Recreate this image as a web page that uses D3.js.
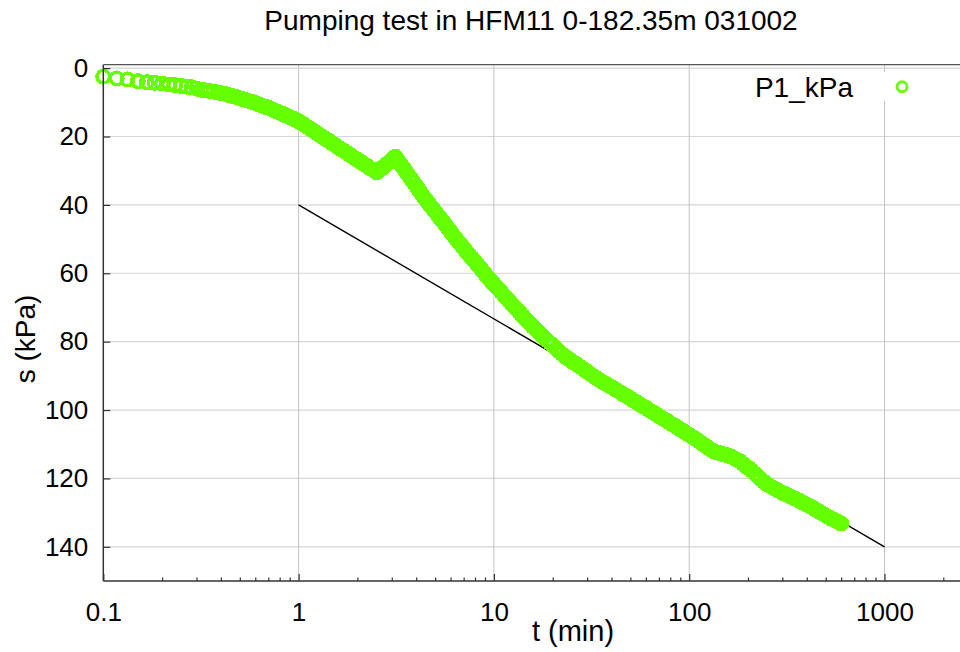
<!DOCTYPE html>
<html><head><meta charset="utf-8">
<script src="https://cdn.jsdelivr.net/npm/d3@7"></script>
<style>body{margin:0;background:#fff;} svg{display:block;font-family:"Liberation Sans",Arial,sans-serif;}</style>
</head><body><svg id="c" width="960" height="652"></svg>
<script>
// time (min)
const tMin = [
0.1,0.117,0.133,0.15,0.167,0.183,0.2,0.217,0.233,0.25,0.267,0.283,0.3,0.317,0.333,0.35,0.367,0.383,0.4,0.417,0.433,0.45,0.467,0.483,0.5,
0.515,0.53,0.55,0.57,0.585,0.6,0.615,0.63,0.65,0.67,0.685,0.7,0.715,0.73,0.75,0.77,0.785,0.8,0.815,0.83,0.85,0.87,0.885,0.9,0.915,0.93,0.95,0.97,0.985,1.0,
1.03,1.06,1.09,1.12,1.15,1.18,1.21,1.25,1.28,1.32,1.36,1.4,1.44,1.48,1.52,1.56,1.6,1.65,1.7,1.75,1.8,1.85,1.9,1.95,2.0,2.06,2.12,2.18,2.24,2.3,2.36,2.42,2.48,2.52,
2.58,2.64,2.7,2.76,2.82,2.88,2.94,3.0,3.06,3.13,
3.2,3.28,3.36,3.44,3.52,3.6,3.7,3.8,3.9,4.0,4.1,4.2,4.3,4.4,4.5,4.6,4.7,4.8,4.9,5.0,5.12,5.24,5.36,5.48,5.6,5.73,5.86,6.0,6.14,6.28,6.42,6.57,6.72,6.88,7.04,7.2,7.37,7.54,7.72,7.9,8.08,8.27,8.46,8.66,8.86,9.07,9.28,9.5,9.72,9.95,10.2,10.4,10.7,10.9,11.2,11.4,11.7,12.0,12.3,12.6,12.9,13.2,13.5,13.8,14.1,14.5,14.8,15.2,15.5,15.9,16.3,16.7,17.1,
17.5,18.1,18.8,19.4,20.1,20.8,21.5,22.3,23.1,23.9,24.7,25.6,26.5,27.4,28.4,29.4,30.4,31.5,32.6,33.7,34.9,36.1,37.4,38.7,40.1,41.5,42.9,44.4,46.0,47.6,49.3,51.0,52.8,54.6,56.5,58.5,60.6,62.7,64.9,67.2,69.5,72.0,74.5,77.1,79.8,82.6,85.5,88.5,91.6,94.8,98.1,101.5,105.1,108.8,112.6,116.6,120.7,124.9,129.3,133.8,138.5,143.4,148.4,153.6,159.0,164.6,170.4,176.4,182.6,189.0,195.6,202.5,209.6,216.9,224.5,232.4,240.5,249.0,257.7,266.8,276.1,285.8,295.8,306.2,317.0,328.1,339.6,351.5,363.8,376.6,389.8,403.5,417.6,432.3,447.4,463.1,479.4,496.2,513.6,531.6,550.3,569.6,589.6,600
];
// drawdown s (kPa)
const sKPa = [
2.5,3.0,3.3,3.8,4.1,4.3,4.5,4.8,5.0,5.2,5.4,5.6,6.0,6.3,6.5,6.7,6.9,7.1,7.3,7.5,7.8,8.0,8.3,8.5,8.8,
9.0,9.2,9.5,9.8,10.0,10.2,10.5,10.7,11.0,11.2,11.4,11.6,11.8,12.0,12.3,12.6,12.8,13.0,13.2,13.4,13.7,13.9,14.1,14.3,14.5,14.7,14.9,15.1,15.3,15.5,
16.0,16.4,16.9,17.3,17.8,18.2,18.6,19.1,19.5,20.0,20.5,21.0,21.4,21.9,22.3,22.7,23.2,23.7,24.1,24.6,25.1,25.5,26.0,26.4,26.8,27.3,27.7,28.2,28.6,29.1,29.5,29.9,30.3,30.5,
30.0,29.5,29.0,28.6,28.1,27.7,27.3,26.8,26.4,25.9,
26.7,27.6,28.4,29.2,30.0,30.8,31.8,32.7,33.6,34.5,35.4,36.2,37.1,37.9,38.6,39.3,40.0,40.6,41.3,42.0,42.7,43.5,44.2,44.9,45.6,46.3,47.1,47.8,48.6,49.3,50.0,50.7,51.4,52.1,52.8,53.5,54.2,54.9,55.6,56.2,56.9,57.6,58.3,59.0,59.7,60.4,61.1,61.7,62.4,63.0,63.7,64.2,65.0,65.5,66.3,66.8,67.5,68.2,68.9,69.6,70.2,70.8,71.4,72.0,72.5,73.3,73.8,74.5,75.0,75.7,76.3,76.9,77.5,
78.0,78.8,79.7,80.4,81.2,82.0,82.8,83.6,84.3,84.9,85.4,86.1,86.6,87.2,87.8,88.4,89.0,89.6,90.2,90.7,91.3,91.8,92.3,92.8,93.3,93.8,94.3,94.8,95.4,95.9,96.4,96.9,97.4,98.0,98.5,99.0,99.5,100.1,100.6,101.1,101.7,102.2,102.7,103.2,103.8,104.3,104.8,105.4,105.9,106.4,107.0,107.5,108.0,108.6,109.2,109.8,110.4,111.0,111.6,112.1,112.4,112.6,112.9,113.1,113.4,113.7,114.1,114.6,115.0,115.8,116.6,117.0,117.8,118.6,119.4,120.2,120.9,121.6,122.1,122.6,123.1,123.6,124.0,124.4,124.8,125.2,125.6,126.0,126.4,126.9,127.3,127.8,128.2,128.7,129.2,129.7,130.2,130.7,131.2,131.7,132.1,132.5,132.9,133.2
];
// straight-line fit
const fitT = [1, 1000];
const fitS = [40, 140];
const xTickVals = [0.1, 1, 10, 100, 1000];
const xTickLabels = ["0.1", "1", "10", "100", "1000"];
const yTickVals = [0, 20, 40, 60, 80, 100, 120, 140];
const titleText = "Pumping test in HFM11 0-182.35m 031002";
const seriesName = "P1_kPa";
const xLabel = "t (min)";
const yLabel = "s (kPa)";

const W = 960, H = 652;
const L = 103.3, T = 64.7, B = 581;
const green = "#66ff00";
const svg = d3.select("#c");

const x = d3.scaleLog().domain([0.1, 10000]).range([L, L + 5 * 195.3]);
const y = d3.scaleLinear().domain([-1, 150]).range([T, B]);

// gridlines
svg.append("g").selectAll("line").data(yTickVals).join("line")
  .attr("x1", L).attr("x2", W).attr("y1", d => y(d)).attr("y2", d => y(d))
  .attr("stroke", "#d6d6d6").attr("stroke-width", 1.2);
svg.append("g").selectAll("line").data(xTickVals.slice(1)).join("line")
  .attr("x1", d => x(d)).attr("x2", d => x(d)).attr("y1", T).attr("y2", B)
  .attr("stroke", "#c4c4c4").attr("stroke-width", 1);

// fit line
svg.append("line")
  .attr("x1", x(fitT[0])).attr("y1", y(fitS[0]))
  .attr("x2", x(fitT[1])).attr("y2", y(fitS[1]))
  .attr("stroke", "#000").attr("stroke-width", 1.4);

// data points
const pts = tMin.map((t, i) => ({t, s: sKPa[i]}));
svg.append("g").attr("shape-rendering", "crispEdges")
  .selectAll("circle").data(pts).join("circle")
  .attr("cx", d => x(d.t)).attr("cy", d => y(d.s)).attr("r", 6.3)
  .attr("fill", "none").attr("stroke", green).attr("stroke-width", 3.4);

// axes
const minors = [];
[0.1, 1, 10, 100, 1000].forEach(d => { for (let m = 2; m <= 9; m++) { const v = d * m; if (x(v) <= W) minors.push(v); } });
const gx = svg.append("g").attr("transform", `translate(0,${B})`);
gx.call(d3.axisBottom(x).tickValues(minors).tickSize(-3.5).tickFormat(""));
gx.call(g => g.select(".domain").remove());
const gx2 = svg.append("g").attr("transform", `translate(0,${B})`);
gx2.call(d3.axisBottom(x).tickValues(xTickVals).tickSize(-7).tickPadding(21.5)
  .tickFormat((d, i) => xTickLabels[i]));
gx2.select(".domain").remove();
[gx, gx2].forEach(g => g.selectAll(".tick line").attr("stroke", "#333").attr("stroke-width", 1.2));
gx2.selectAll("text").attr("font-size", 26).attr("fill", "#000").attr("font-family", "Liberation Sans, Arial, sans-serif");

const gy = svg.append("g").attr("transform", `translate(${L},0)`);
gy.call(d3.axisLeft(y).tickValues(yTickVals).tickSize(-7).tickPadding(15));
gy.select(".domain").remove();
gy.selectAll(".tick line").attr("stroke", "#333").attr("stroke-width", 1.2);
gy.selectAll("text").attr("font-size", 26).attr("fill", "#000").attr("font-family", "Liberation Sans, Arial, sans-serif");

// frame lines
svg.append("line").attr("x1", L).attr("x2", L).attr("y1", T).attr("y2", B).attr("stroke", "#333").attr("stroke-width", 1.5);
svg.append("line").attr("x1", L).attr("x2", W).attr("y1", B).attr("y2", B).attr("stroke", "#333").attr("stroke-width", 1.5);
svg.append("line").attr("x1", L).attr("x2", W).attr("y1", T).attr("y2", T).attr("stroke", "#555").attr("stroke-width", 1.2);

// legend
svg.append("rect").attr("x", 745).attr("y", 72).attr("width", 180).attr("height", 29).attr("fill", "#fff");
svg.append("text").attr("x", 853).attr("y", 96.5).attr("text-anchor", "end")
  .attr("font-size", 28).attr("fill", "#000").text(seriesName);
svg.append("circle").attr("cx", 902).attr("cy", 86.7).attr("r", 5)
  .attr("fill", "none").attr("stroke", green).attr("stroke-width", 2.8);

// title and axis labels
svg.append("text").attr("x", 531).attr("y", 30).attr("text-anchor", "middle")
  .attr("font-size", 28).attr("fill", "#000").text(titleText);
svg.append("text").attr("x", 573).attr("y", 641).attr("text-anchor", "middle")
  .attr("font-size", 29).attr("fill", "#000").text(xLabel);
svg.append("text").attr("transform", "translate(35,339) rotate(-90)").attr("text-anchor", "middle")
  .attr("font-size", 28).attr("fill", "#000").text(yLabel);
</script></body></html>
